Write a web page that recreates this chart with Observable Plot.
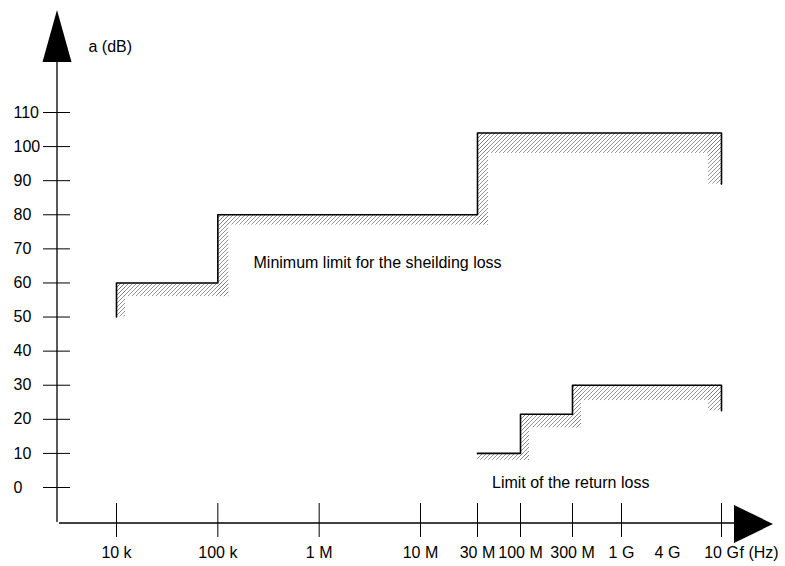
<!DOCTYPE html>
<html><head><meta charset="utf-8">
<script src="https://cdn.jsdelivr.net/npm/d3@7"></script>
<script src="https://cdn.jsdelivr.net/npm/@observablehq/plot@0.6"></script>
<style>body{margin:0;background:#fff;} svg{display:block}</style>
</head><body><div id="chart"></div>
<script>
// ---- data ----
const yTicks = [0, 10, 20, 30, 40, 50, 60, 70, 80, 90, 100, 110];
const xTickFreqs = [1e4, 1e5, 1e6, 1e7, 3e7, 1e8, 3e8, 1e9, 1e10];
const xLabelFreqs = [1e4, 1e5, 1e6, 1e7, 3e7, 1e8, 3e8, 1e9, 4e9, 1e10];
const xLabelTexts = ["10 k", "100 k", "1 M", "10 M", "30 M", "100 M", "300 M", "1 G", "4 G", "10 G"];
const yTitle = "a (dB)";
const xUnit = "f (Hz)";

// hand-drawn (non-uniform) frequency axis of the original figure
const axisFreqs = [1e4, 1e7, 3e7, 1e8, 3e8, 1e9, 4e9, 1e10];
const axisPx    = [116, 420, 477, 520, 572, 621, 667, 721];

// shielding loss limit (upper staircase)
const shieldFreqs = [1e4, 1e5, 3e7, 1e10];
const shieldLevels = [60, 80, 104];
const shieldLows = [56, 77, 98];
const shieldStartLow = 50, shieldEndLow = 89;
const shieldText = "Minimum limit for the sheilding loss";
const shieldTextPos = {x: 2.25e5, y: 66};

// return loss limit (lower staircase)
const returnFreqs = [3e7, 1e8, 3e8, 1e10];
const returnLevels = [10, 21.5, 30];
const returnLows = [8, 17.5, 25.5];
const returnEndLow = 22.5;
const returnText = "Limit of the return loss";
const returnTextPos = {x: 4.5e7, y: 1.5};

// ---- helpers ----
function stepPath(f, lv, startLow, endLow) {
  const pts = [];
  if (startLow != null) pts.push({x: f[0], y: startLow});
  lv.forEach((l, i) => { pts.push({x: f[i], y: l}); pts.push({x: f[i + 1], y: l}); });
  pts.push({x: f[f.length - 1], y: endLow});
  return pts;
}
function bands(f, lv, lows) {
  return lv.map((l, i) => ({x1: f[i], x2: f[i + 1], y1: lows[i], y2: l, last: i === lv.length - 1}));
}
function risers(f, lv, lows) {
  return lv.slice(1).map((l, i) => ({x: f[i + 1], y1: lows[i], y2: l}));
}

const HATCH = "url(#hatch)";
const FONT = "Liberation Sans, Arial, sans-serif";
const FS = 16;

function hatchMarks(f, lv, lows, startLow, endLow, w) {
  const b = bands(f, lv, lows);
  const r = risers(f, lv, lows);
  const marks = [
    Plot.rect(b.filter(d => !d.last), {x1: "x1", x2: "x2", y1: "y1", y2: "y2", fill: HATCH, insetRight: -w}),
    Plot.rect(b.filter(d => d.last), {x1: "x1", x2: "x2", y1: "y1", y2: "y2", fill: HATCH}),
    Plot.rect(r, {x1: "x", x2: "x", y1: "y1", y2: "y2", fill: HATCH, insetRight: -w}),
    Plot.rect([{x: f[f.length - 1], y1: endLow, y2: lv[lv.length - 1]}], {x1: "x", x2: "x", y1: "y1", y2: "y2", fill: HATCH, insetLeft: -13})
  ];
  if (startLow != null)
    marks.push(Plot.rect([{x: f[0], y1: startLow, y2: lv[0]}], {x1: "x", x2: "x", y1: "y1", y2: "y2", fill: HATCH, insetRight: -9}));
  return marks;
}

function defsMark() {
  const g = d3.create("svg:g");
  const p = g.append("defs").append("pattern")
    .attr("id", "hatch").attr("patternUnits", "userSpaceOnUse")
    .attr("width", 4).attr("height", 4);
  p.append("path").attr("d", "M-1,1 l2,-2 M0,4 l4,-4 M3,5 l2,-2")
    .attr("stroke", "#7a7a7a").attr("stroke-width", 0.8).attr("fill", "none");
  return g.node();
}

function axesMark(index, scales, values, dims) {
  const {marginLeft: L, marginTop: T, marginBottom: B, marginRight: R, width: W, height: H} = dims;
  const g = d3.create("svg:g");
  const yb = H - B;
  g.append("line").attr("x1", L).attr("x2", L).attr("y1", yb - 1).attr("y2", T + 50)
    .attr("stroke", "#000").attr("stroke-width", 1.3);
  g.append("path").attr("d", `M${L},${T} L${L - 14.5},${T + 52} L${L + 14.5},${T + 52} Z`).attr("fill", "#000");
  g.append("line").attr("x1", L + 2).attr("x2", W - R - 37).attr("y1", yb).attr("y2", yb)
    .attr("stroke", "#000").attr("stroke-width", 1.3);
  g.append("path").attr("d", `M${W - R},${yb + 1} L${W - R - 39},${yb - 18} L${W - R - 39},${yb + 20} Z`).attr("fill", "#000");
  return g.node();
}

const fmt = new Map(xLabelFreqs.map((f, i) => [f, xLabelTexts[i]]));

const chart = Plot.plot({
  width: 785,
  height: 566,
  marginLeft: 57,
  marginTop: 10,
  marginRight: 12,
  marginBottom: 43,
  style: {fontFamily: FONT, background: "#fff", color: "#000"},
  x: {type: "log", domain: axisFreqs, range: axisPx, label: null},
  y: {domain: [0, 110], range: [487, 112], label: null},
  marks: [
    defsMark,
    ...hatchMarks(shieldFreqs, shieldLevels, shieldLows, shieldStartLow, shieldEndLow, 11),
    ...hatchMarks(returnFreqs, returnLevels, returnLows, null, returnEndLow, 9),
    Plot.line(stepPath(shieldFreqs, shieldLevels, shieldStartLow, shieldEndLow), {x: "x", y: "y", stroke: "#000", strokeWidth: 1.6}),
    Plot.line(stepPath(returnFreqs, returnLevels, null, returnEndLow), {x: "x", y: "y", stroke: "#000", strokeWidth: 1.6}),
    axesMark,
    Plot.axisY({ticks: yTicks, tickSize: 27, dx: 13, tickFormat: () => "", label: null}),
    Plot.text(yTicks, {y: d => d, frameAnchor: "left", lineAnchor: "middle", textAnchor: "start", dx: -44, text: d => String(d), fontSize: FS}),
    Plot.axisX({ticks: xTickFreqs, tickSize: 34, dy: -20, tickFormat: () => "", label: null}),
    Plot.text(xLabelFreqs, {x: d => d, frameAnchor: "bottom", lineAnchor: "middle", dy: 29, text: d => fmt.get(d), fontSize: FS}),
    Plot.text([xUnit], {x: () => 1e10, frameAnchor: "bottom", lineAnchor: "middle", dy: 29, dx: 18, textAnchor: "start", text: d => d, fontSize: FS}),
    Plot.text([yTitle], {frameAnchor: "top-left", lineAnchor: "middle", dx: 31, dy: 36, textAnchor: "start", text: d => d, fontSize: FS}),
    Plot.text([shieldText], {x: () => shieldTextPos.x, y: () => shieldTextPos.y, textAnchor: "start", text: d => d, fontSize: FS}),
    Plot.text([returnText], {x: () => returnTextPos.x, y: () => returnTextPos.y, textAnchor: "start", text: d => d, fontSize: FS})
  ]
});
document.getElementById("chart").appendChild(chart);
</script>
</body></html>
